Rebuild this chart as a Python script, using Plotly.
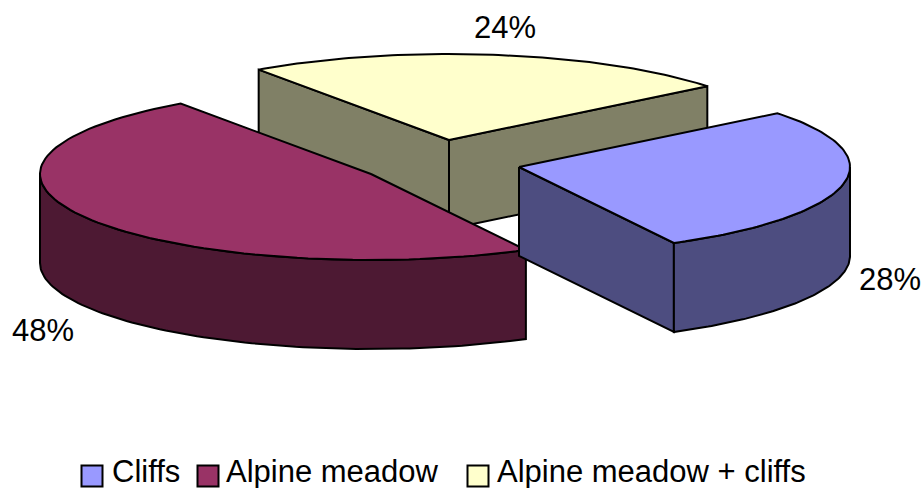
import numpy as np
import plotly.graph_objects as go

# Habitat shares, in percent
categories = ["Cliffs", "Alpine meadow", "Alpine meadow + cliffs"]
shares = [28, 48, 24]

top_colors = ["#9999FF", "#993366", "#FFFFCC"]
wall_colors = ["#4D4D80", "#4D1933", "#808066"]

# Projection of the tilted pie, in page pixels
RX, RY = 331.0, 86.0
DEPTH = 89.0
FIRST_ANGLE = -38.7       # screen angle where the first slice begins, running clockwise
APEX = {"Cliffs": (519, 167), "Alpine meadow": (371, 174), "Alpine meadow + cliffs": (449, 140)}
LABEL_POS = {"Cliffs": (890, 282), "Alpine meadow": (43, 333), "Alpine meadow + cliffs": (505, 30)}
KEY_SWATCH_X = {"Cliffs": 92, "Alpine meadow": 208, "Alpine meadow + cliffs": 478}
KEY_TEXT_X = {"Cliffs": 112, "Alpine meadow": 226, "Alpine meadow + cliffs": 497}
KEY_Y = 476
FONT = "Liberation Sans, Arial, sans-serif"
EDGE = dict(color="black", width=2)

# Angular extent of each slice follows from its share
extent = {}
angle = FIRST_ANGLE
for name, share in zip(categories, shares):
    sweep = share / sum(shares) * 360
    extent[name] = (angle, angle + sweep)
    angle += sweep


def rim(name, a0=None, a1=None):
    start, end = extent[name]
    a0 = start if a0 is None else a0
    a1 = end if a1 is None else a1
    t = np.radians(np.linspace(a0, a1, 90))
    ax, ay = APEX[name]
    return ax + RX * np.cos(t), ay + RY * np.sin(t)


def polygon(fig, x, y, color):
    fig.add_trace(go.Scatter(
        x=list(x), y=list(y), mode="lines", fill="toself", fillcolor=color,
        line=EDGE, hoverinfo="skip", showlegend=False,
    ))


def radial_wall(fig, name, x_end, y_end, color):
    ax, ay = APEX[name]
    polygon(fig, [ax, x_end, x_end, ax, ax], [ay, y_end, y_end + DEPTH, ay + DEPTH, ay], color)


def outer_wall(fig, name, a0, a1, color):
    x, y = rim(name, a0, a1)
    polygon(fig, np.r_[x, x[::-1], x[0]], np.r_[y, y[::-1] + DEPTH, y[0]], color)


def top_face(fig, name, color):
    x, y = rim(name)
    ax, ay = APEX[name]
    polygon(fig, np.r_[ax, x, ax], np.r_[ay, y, ay], color)


fig = go.Figure()
idx = {name: i for i, name in enumerate(categories)}

# Back slice: both cut faces are visible
name = "Alpine meadow + cliffs"
x, y = rim(name)
radial_wall(fig, name, x[0], y[0], wall_colors[idx[name]])
radial_wall(fig, name, x[-1], y[-1], wall_colors[idx[name]])
top_face(fig, name, top_colors[idx[name]])

# Left slice: only the curved front shows
name = "Alpine meadow"
outer_wall(fig, name, extent[name][0], 180, wall_colors[idx[name]])
top_face(fig, name, top_colors[idx[name]])

# Right slice: curved front plus one cut face
name = "Cliffs"
x, y = rim(name)
radial_wall(fig, name, x[-1], y[-1], wall_colors[idx[name]])
outer_wall(fig, name, 0, extent[name][1], wall_colors[idx[name]])
top_face(fig, name, top_colors[idx[name]])

# Percentage labels
fig.add_trace(go.Scatter(
    x=[LABEL_POS[n][0] for n in categories],
    y=[LABEL_POS[n][1] for n in categories],
    text=[f"{s}%" for s in shares],
    mode="text", textposition="middle center",
    textfont=dict(family=FONT, size=31, color="black"),
    hoverinfo="skip", showlegend=False,
))

# Colour key along the bottom, with larger swatches than a plotly legend permits
fig.add_trace(go.Scatter(
    x=[KEY_SWATCH_X[n] for n in categories], y=[KEY_Y] * len(categories),
    mode="markers",
    marker=dict(symbol="square", size=21, color=top_colors, line=EDGE),
    hoverinfo="skip", showlegend=False,
))
fig.add_trace(go.Scatter(
    x=[KEY_TEXT_X[n] for n in categories], y=[KEY_Y - 2] * len(categories),
    text=categories, mode="text", textposition="middle right",
    textfont=dict(family=FONT, size=31, color="black"),
    hoverinfo="skip", showlegend=False,
))

fig.update_layout(
    width=923, height=488,
    margin=dict(l=0, r=0, t=0, b=0),
    paper_bgcolor="white", plot_bgcolor="white",
    showlegend=False,
    xaxis=dict(range=[0, 923], visible=False, fixedrange=True),
    yaxis=dict(range=[488, 0], visible=False, fixedrange=True),
)

fig.write_html("out.html", config={"displayModeBar": False})
